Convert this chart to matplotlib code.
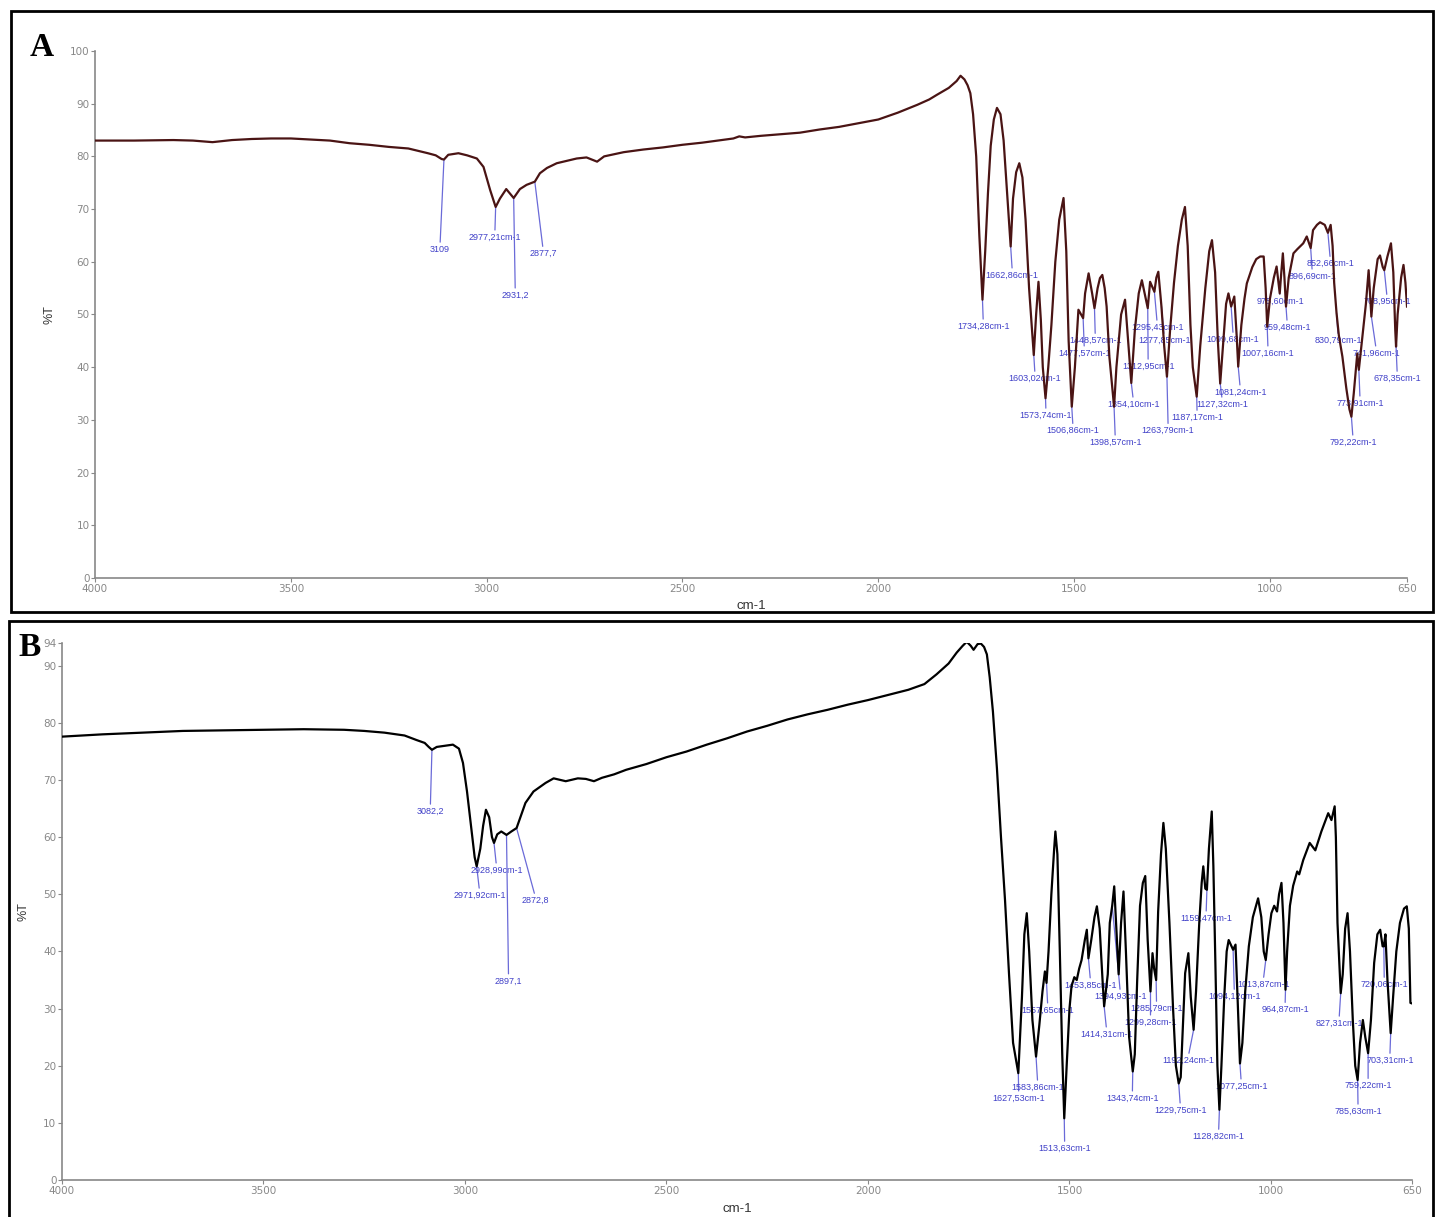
import matplotlib
matplotlib.use('Agg')
import matplotlib.pyplot as plt
from matplotlib.patches import Rectangle
import numpy as np

# ---------------- spectrum A ----------------
wn_a = [4000, 3900, 3800, 3750, 3700, 3650, 3600, 3550, 3500, 3450, 3400, 3350,
        3300, 3250, 3200, 3150, 3130, 3115, 3109, 3098, 3072, 3050, 3025, 3008,
        2991, 2977, 2966, 2950, 2931, 2915, 2898, 2877, 2864, 2846, 2821, 2770,
        2745, 2728, 2718, 2700, 2650, 2600, 2550, 2500, 2450, 2400, 2370, 2355,
        2340, 2300, 2250, 2200, 2150, 2100, 2050, 2000, 1950, 1900, 1870, 1850,
        1820, 1800, 1790, 1780, 1772, 1765, 1758, 1750, 1742, 1734, 1727, 1720,
        1713, 1705, 1697, 1688, 1680, 1672, 1662, 1656, 1648, 1640, 1632, 1624,
        1615, 1603, 1597, 1591, 1585, 1580, 1573, 1566, 1558, 1548, 1538, 1527,
        1520, 1514, 1506, 1498, 1489, 1477, 1472, 1463, 1454, 1448, 1440, 1434,
        1428, 1422, 1417, 1410, 1398, 1392, 1380, 1370, 1362, 1354, 1345, 1335,
        1327, 1320, 1312, 1306, 1295, 1290, 1285, 1280, 1277, 1270, 1263, 1255,
        1245, 1235, 1225, 1217, 1210, 1203, 1197, 1187, 1178, 1165, 1155, 1148,
        1140, 1133, 1127, 1120, 1112, 1106, 1099, 1091, 1085, 1081, 1073, 1065,
        1059, 1045, 1035, 1025, 1016, 1011, 1007, 1000, 990, 983, 975, 971,
        967, 963, 959, 952, 940, 930, 923, 915, 906, 896, 890, 880,
        872, 860, 852, 845, 840, 836, 830, 824, 815, 805, 797, 792,
        786, 780, 777, 773, 765, 755, 748, 741, 735, 725, 719, 712,
        708, 700, 691, 685, 680, 678, 674, 665, 659, 654, 650]
t_a = [83.0, 83.0, 83.1, 83.0, 82.7, 83.1, 83.3, 83.4, 83.4, 83.2, 83.0, 82.5,
       82.2, 81.8, 81.5, 80.6, 80.2, 79.5, 79.4, 80.3, 80.6, 80.2, 79.6, 78.0,
       73.6, 70.4, 72.0, 73.8, 72.1, 73.8, 74.6, 75.2, 76.8, 77.8, 78.7, 79.6,
       79.8, 79.3, 79.0, 80.0, 80.8, 81.3, 81.7, 82.2, 82.6, 83.1, 83.4, 83.8,
       83.6, 83.9, 84.2, 84.5, 85.1, 85.6, 86.3, 87.0, 88.3, 89.8, 90.8, 91.7,
       93.0, 94.3, 95.3, 94.6, 93.5, 92.0, 88.0, 80.0, 65.0, 52.8, 62.0, 73.0,
       82.0, 87.0, 89.2, 88.0, 83.0, 74.0, 62.9, 72.0, 77.0, 78.7, 76.0, 68.0,
       55.0, 42.3, 50.0, 56.2, 49.0, 40.0, 34.1, 40.0, 48.0, 60.0, 68.0, 72.1,
       62.0, 45.0, 32.5, 40.0, 50.9, 49.3, 54.0, 57.8, 54.0, 51.2, 55.0, 56.9,
       57.5, 55.0, 51.5, 42.0, 32.5, 40.0, 50.0, 52.8, 45.0, 37.0, 47.0, 54.0,
       56.5, 54.0, 51.2, 56.2, 54.3, 57.0, 58.1, 54.0, 51.5, 44.0, 38.2, 47.0,
       56.0, 63.0, 68.0, 70.4, 63.0, 48.0, 40.0, 34.4, 44.0, 55.0, 62.0, 64.1,
       58.0, 45.0, 36.9, 44.0, 52.0, 54.0, 51.5, 53.4, 46.0, 40.1, 48.0, 53.0,
       55.9, 59.0, 60.5, 61.0, 61.0, 55.0, 47.7, 53.0, 57.0, 59.1, 54.0, 58.0,
       61.6, 57.0, 51.5, 57.0, 61.6, 62.4, 62.9, 63.5, 64.8, 62.6, 66.0, 67.0,
       67.5, 67.0, 65.5, 67.0, 63.0, 56.0, 50.3, 46.0, 42.0, 36.0, 32.0, 30.6,
       35.0, 40.0, 42.6, 39.5, 45.0, 52.0, 58.4, 49.6, 55.0, 60.5, 61.2, 59.0,
       58.4, 61.0, 63.5, 58.0, 47.0, 43.9, 50.0, 57.0, 59.4, 56.0, 51.5]

labels_a = ['3109', '2977,21cm-1', '2931,2', '2877,7', '1734,28cm-1', '1662,86cm-1',
            '1603,02cm-1', '1573,74cm-1', '1506,86cm-1', '1477,57cm-1', '1448,57cm-1',
            '1398,57cm-1', '1354,10cm-1', '1312,95cm-1', '1295,43cm-1', '1277,85cm-1',
            '1263,79cm-1', '1187,17cm-1', '1127,32cm-1', '1099,68cm-1', '1081,24cm-1',
            '1007,16cm-1', '975,60cm-1', '959,48cm-1', '896,69cm-1', '852,66cm-1',
            '830,79cm-1', '792,22cm-1', '773,91cm-1', '741,96cm-1', '708,95cm-1',
            '678,35cm-1']
peak_wn_a = [3109, 2977, 2931, 2877, 1734, 1662, 1603, 1573, 1506, 1477, 1448,
             1398, 1354, 1312, 1295, 1277, 1263, 1187, 1127, 1099, 1081, 1007,
             975, 959, 896, 852, 830, 792, 773, 741, 708, 678]
# where each label sits (wavenumber, %T of the label top)
text_wn_a = [3119, 2979, 2927, 2856, 1732, 1658, 1600, 1572, 1503, 1474, 1446,
             1395, 1349, 1311, 1288, 1270, 1260, 1186, 1122, 1094, 1076, 1005,
             974, 956, 892, 846, 826, 788, 770, 729, 701, 675]
text_t_a = [63.2, 65.5, 54.5, 62.4, 48.6, 58.3, 38.7, 31.7, 28.8, 43.5, 45.9,
            26.6, 33.8, 41.0, 48.4, 45.9, 28.8, 31.3, 33.8, 46.1, 36.1, 43.5,
            53.3, 48.4, 58.1, 60.5, 45.9, 26.6, 34.0, 43.5, 53.3, 38.7]

# ---------------- spectrum B ----------------
wn_b = [4000, 3900, 3800, 3700, 3600, 3500, 3400, 3300, 3250, 3200, 3150, 3120,
        3100, 3090, 3082, 3070, 3050, 3030, 3015, 3005, 2995, 2985, 2976, 2971,
        2962, 2955, 2948, 2940, 2933, 2928, 2920, 2910, 2897, 2885, 2872, 2860,
        2850, 2830, 2800, 2780, 2750, 2720, 2700, 2680, 2660, 2630, 2600, 2550,
        2500, 2450, 2400, 2350, 2300, 2250, 2200, 2150, 2100, 2050, 2000, 1950,
        1900, 1860, 1830, 1800, 1780, 1765, 1755, 1745, 1738, 1728, 1720, 1712,
        1705, 1698, 1690, 1680, 1670, 1660, 1650, 1640, 1627, 1618, 1612, 1606,
        1600, 1592, 1583, 1575, 1567, 1561, 1557, 1552, 1545, 1538, 1535, 1530,
        1524, 1518, 1513, 1507, 1500, 1495, 1488, 1482, 1476, 1470, 1462, 1457,
        1453, 1446, 1438, 1432, 1425, 1418, 1414, 1405, 1400, 1394, 1389, 1383,
        1378, 1372, 1366, 1360, 1352, 1343, 1338, 1332, 1325, 1318, 1312, 1306,
        1299, 1294, 1290, 1285, 1280, 1273, 1267, 1261, 1252, 1243, 1236, 1229,
        1224, 1218, 1213, 1205, 1199, 1192, 1186, 1178, 1172, 1168, 1163, 1159,
        1154, 1147, 1143, 1138, 1133, 1128, 1123, 1116, 1110, 1105, 1094, 1088,
        1083, 1077, 1071, 1064, 1055, 1045, 1032, 1024, 1018, 1013, 1006, 999,
        992, 985, 980, 974, 969, 964, 960, 953, 945, 935, 930, 920,
        904, 890, 875, 858, 850, 842, 839, 835, 827, 822, 816, 810,
        804, 797, 791, 785, 779, 772, 766, 759, 752, 744, 736, 729,
        723, 720, 716, 711, 703, 697, 689, 680, 670, 663, 658, 654,
        650]
t_b = [77.6, 78.0, 78.3, 78.6, 78.7, 78.8, 78.9, 78.8, 78.6, 78.3, 77.8, 77.0,
       76.5, 75.8, 75.3, 75.8, 76.0, 76.2, 75.5, 73.0, 68.0, 62.0, 56.5, 54.9,
       58.0, 62.0, 64.8, 63.5, 60.0, 59.0, 60.5, 61.0, 60.4, 61.0, 61.6, 64.0,
       66.0, 68.0, 69.5, 70.3, 69.8, 70.3, 70.2, 69.8, 70.4, 71.0, 71.8, 72.8,
       74.0, 75.0, 76.2, 77.3, 78.5, 79.5, 80.6, 81.5, 82.3, 83.2, 84.0, 84.9,
       85.8, 86.8, 88.5, 90.4, 92.3, 93.5, 94.2, 93.5, 92.8, 93.8, 93.9, 93.3,
       92.0, 88.0, 82.0, 72.0, 60.0, 49.0, 36.0, 24.0, 18.7, 32.0, 43.0, 46.7,
       40.0, 28.0, 21.6, 27.0, 33.0, 36.5, 34.5, 40.0, 50.0, 58.0, 61.0, 57.0,
       40.0, 22.0, 10.8, 20.0, 30.0, 33.9, 35.5, 35.0, 37.0, 38.5, 42.0, 43.8,
       38.8, 42.0, 46.0, 47.9, 44.0, 35.0, 30.4, 36.0, 45.0, 48.0, 51.4, 43.0,
       36.0, 45.0, 50.5, 40.0, 25.0, 19.0, 22.0, 35.0, 48.0, 52.0, 53.2, 42.0,
       33.0, 39.7, 37.0, 35.0, 47.0, 57.0, 62.5, 58.0, 45.0, 30.0, 20.0, 16.9,
       18.0, 28.0, 36.2, 39.7, 32.0, 26.3, 33.0, 45.0, 52.0, 54.9, 51.0, 50.8,
       58.0, 64.5, 55.0, 38.0, 20.0, 12.3, 20.0, 32.0, 40.0, 42.0, 40.3, 41.2,
       32.0, 20.4, 24.0, 33.0, 40.9, 46.0, 49.3, 46.0, 40.0, 38.5, 43.0, 46.7,
       48.0, 47.0, 50.0, 52.0, 45.0, 33.3, 40.0, 48.0, 51.5, 54.0, 53.5, 56.0,
       59.0, 57.7, 61.0, 64.2, 63.0, 65.4, 60.0, 45.0, 32.7, 36.0, 44.0, 46.7,
       40.0, 28.0, 20.0, 17.5, 24.0, 28.0, 25.0, 22.2, 28.0, 38.0, 43.0, 43.8,
       40.9, 40.9, 43.0, 35.0, 25.7, 32.0, 40.0, 45.0, 47.5, 47.9, 44.0, 31.0,
       30.9]

labels_b = ['3082,2', '2971,92cm-1', '2928,99cm-1', '2897,1', '2872,8',
            '1627,53cm-1', '1583,86cm-1', '1557,65cm-1', '1513,63cm-1', '1453,85cm-1',
            '1414,31cm-1', '1394,93cm-1', '1343,74cm-1', '1299,28cm-1', '1285,79cm-1',
            '1229,75cm-1', '1192,24cm-1', '1159,47cm-1', '1128,82cm-1', '1094,12cm-1',
            '1077,25cm-1', '1013,87cm-1', '964,87cm-1', '827,31cm-1', '785,63cm-1',
            '759,22cm-1', '720,06cm-1', '703,31cm-1']
peak_wn_b = [3082, 2971, 2928, 2897, 2872, 1627, 1583, 1557, 1513, 1453, 1414,
             1394, 1343, 1299, 1285, 1229, 1192, 1159, 1128, 1094, 1077, 1013,
             964, 827, 785, 759, 720, 703]
text_wn_b = [3086, 2964, 2922, 2892, 2826, 1626, 1579, 1554, 1512, 1448, 1408,
             1374, 1344, 1299, 1284, 1225, 1205, 1161, 1130, 1091, 1074, 1019,
             965, 831, 784, 759, 719, 705]
text_t_b = [65.3, 50.6, 55.0, 35.6, 49.7, 15.1, 17.0, 30.5, 6.3, 34.9, 26.3,
            32.9, 15.1, 28.4, 30.8, 13.0, 21.7, 46.6, 8.4, 32.9, 17.2, 35.0,
            30.6, 28.2, 12.8, 17.3, 35.0, 21.7]

xticks = [4000, 3500, 3000, 2500, 2000, 1500, 1000, 650]

blue = '#4040c8'
tickfont = ['Liberation Sans Narrow', 'DejaVu Sans']


def panel(ax, wn, t, color, labels, pk, tx, ty, ymax, yticks):
    ax.plot(wn, t, color=color, lw=1.6, zorder=3)
    wn_inc = np.array(wn[::-1], dtype=float)
    t_inc = np.array(t[::-1], dtype=float)
    for lab, p, x, y in zip(labels, pk, tx, ty):
        yp = np.interp(p, wn_inc, t_inc)
        ax.annotate(lab, xy=(p, yp), xytext=(x, y), ha='center', va='top',
                    fontsize=6.5, color=blue, family='Liberation Sans',
                    arrowprops=dict(arrowstyle='-', color='#6a6ad8', lw=0.9,
                                    shrinkA=0, shrinkB=0, relpos=(0.5, 1.0)),
                    zorder=2)
    ax.set_xlim(4000, 650)
    ax.set_ylim(0, ymax)
    ax.set_xticks(xticks)
    ax.set_xticklabels([str(v) for v in xticks], family=tickfont, fontsize=7.5, color='#333333')
    ax.set_yticks(yticks)
    ax.set_yticklabels([str(v) for v in yticks], family=tickfont, fontsize=7.5, color='#333333')
    for s in ['top', 'right']:
        ax.spines[s].set_visible(False)
    for s in ['left', 'bottom']:
        ax.spines[s].set_color('#888888')
        ax.spines[s].set_linewidth(1.2)
    ax.tick_params(direction='out', length=3, width=0.8, colors='#888888', pad=1)
    ax.set_xlabel('cm-1', fontsize=9.5, color='#333333', labelpad=5, family='Liberation Sans')
    ax.patch.set_alpha(0)


fig = plt.figure(figsize=(14.35, 12.17), dpi=100)

axA = fig.add_axes([0.0662, 0.5251, 0.9143, 0.4330])
panel(axA, wn_a, t_a, '#4a1414', labels_a, peak_wn_a, text_wn_a, text_t_a,
      100, list(range(0, 101, 10)))
axA.set_ylabel('%T', fontsize=9, color='#333333', family='Liberation Sans', labelpad=10)

axB = fig.add_axes([0.0432, 0.0304, 0.9408, 0.4413])
panel(axB, wn_b, t_b, 'black', labels_b, peak_wn_b, text_wn_b, text_t_b,
      94, list(range(0, 91, 10)) + [94])
axB.set_ylabel('%T', fontsize=9, color='#333333', family='Liberation Sans', labelpad=10)

# panel frames and letters
fig.add_artist(Rectangle((11 / 1435, 1 - 612 / 1217), 1422 / 1435, 601 / 1217,
                         transform=fig.transFigure, fill=False, ec='black', lw=2))
fig.add_artist(Rectangle((9 / 1435, -0.01), 1424 / 1435, 1 - 621 / 1217 + 0.01,
                         transform=fig.transFigure, fill=False, ec='black', lw=2))
fig.text(42 / 1435, 1 - 48 / 1217, 'A', family='Liberation Serif', weight='bold',
         fontsize=24, ha='center', va='center')
fig.text(30 / 1435, 1 - 648 / 1217, 'B', family='Liberation Serif', weight='bold',
         fontsize=24, ha='center', va='center')

fig.savefig('out.png', dpi=100)
